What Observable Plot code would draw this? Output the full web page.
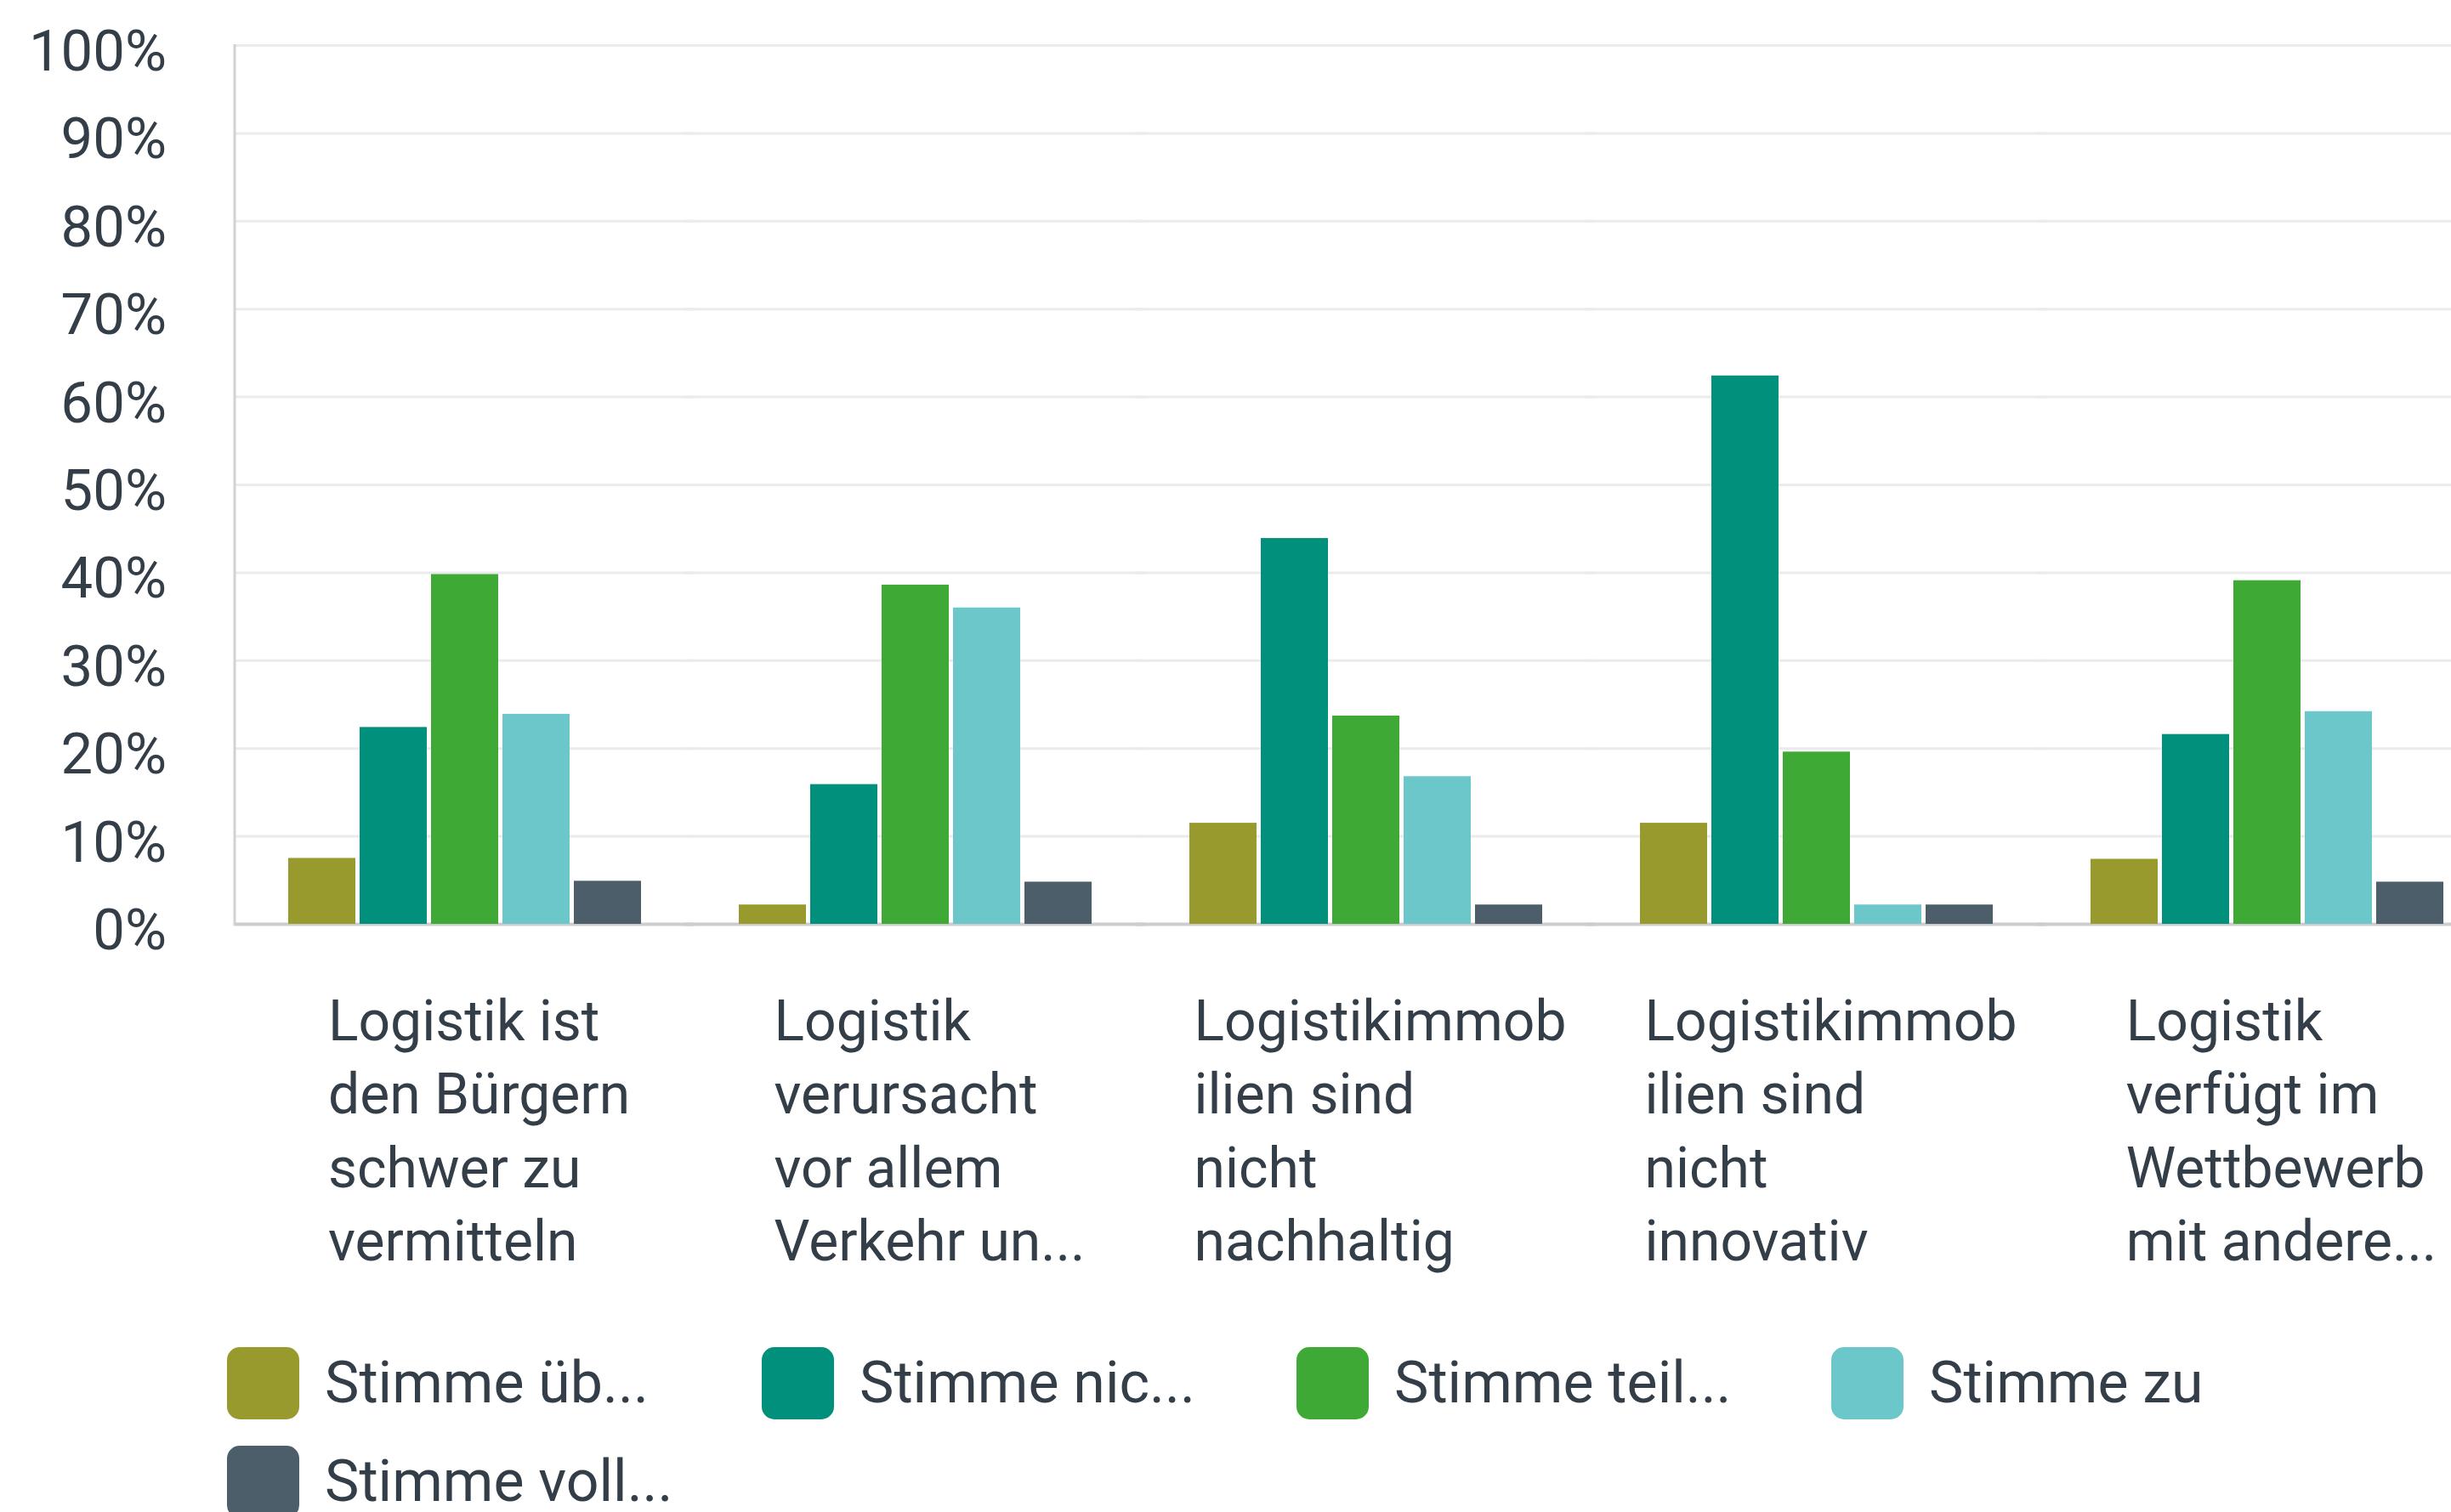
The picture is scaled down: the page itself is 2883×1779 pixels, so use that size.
<!DOCTYPE html>
<html>
<head>
<meta charset="utf-8">
<script src="https://cdn.jsdelivr.net/npm/d3@7"></script>
<script src="https://cdn.jsdelivr.net/npm/@observablehq/plot@0.6"></script>
<style>
  html, body { margin: 0; padding: 0; background: #ffffff; overflow: hidden; }
  #chart { width: 2883px; overflow: hidden; }
  #legend { font-family: Roboto, sans-serif; padding-left: 267px; }
  #legend .lg-swatches-wrap { display: flex; flex-wrap: wrap; width: 2516px; margin: 0; padding: 0; min-height: 0;
    font-family: Roboto, sans-serif; font-size: 68px; color: #333e48; }
  #legend .lg-swatch { display: inline-flex; align-items: center; width: 629px; height: 116px; margin: 0 !important; }
  #legend .lg-swatch > svg { margin-right: 30px !important; flex: none; }
  #legend .lg-swatch > svg rect { rx: 15px; ry: 15px; }
</style>
</head>
<body>
<div id="chart"></div>
<div id="legend"></div>
<script>
// Categories (x-axis labels as shown, wrapped)
const categories = [
  "Logistik ist\nden Bürgern\nschwer zu\nvermitteln",
  "Logistik\nverursacht\nvor allem\nVerkehr un...",
  "Logistikimmob\nilien sind\nnicht\nnachhaltig",
  "Logistikimmob\nilien sind\nnicht\ninnovativ",
  "Logistik\nverfügt im\nWettbewerb\nmit andere..."
];

// Answer series (legend labels as shown)
const answers = ["Stimme üb...", "Stimme nic...", "Stimme teil...", "Stimme zu", "Stimme voll..."];
const colors = ["#989a2d", "#00907c", "#3eaa35", "#6cc7cb", "#4b5e6a"];

// Percentages per answer, one value per category
const stimmeUeberhaupt = [7.5, 2.2, 11.5, 11.5, 7.4];
const stimmeNicht      = [22.4, 15.9, 43.9, 62.4, 21.6];
const stimmeTeilweise  = [39.8, 38.6, 23.7, 19.6, 39.1];
const stimmeZu         = [23.9, 36.0, 16.8, 2.2, 24.2];
const stimmeVoll       = [4.9, 4.8, 2.2, 2.2, 4.8];

const yTicks = [0, 10, 20, 30, 40, 50, 60, 70, 80, 90, 100];

const series = [stimmeUeberhaupt, stimmeNicht, stimmeTeilweise, stimmeZu, stimmeVoll];
const data = [];
categories.forEach((c, i) => {
  answers.forEach((a, j) => data.push({category: c, answer: a, value: series[j][i]}));
});

// layout
const W = 2936, ML = 275, MR = 0;
const padInner = 0.212, padOuter = 0.116;
const step = (W - ML - MR) / (categories.length - padInner + 2 * padOuter);
const leftPad = step * padOuter;       // gap between y axis line and first group

const plot = Plot.plot({
  width: W,
  height: 1569,
  marginLeft: ML,
  marginRight: MR,
  marginTop: 53,
  marginBottom: 482,
  style: {fontFamily: "Roboto, sans-serif", fontSize: "66px", color: "#333e48", background: "#ffffff", overflow: "visible", maxWidth: "none"},
  fx: {domain: categories, paddingInner: padInner, paddingOuter: padOuter, label: null},
  x: {domain: answers, paddingInner: 0.06, paddingOuter: 0, axis: null},
  y: {domain: [0, 100], label: null},
  color: {domain: answers, range: colors},
  marks: [
    Plot.ruleY(yTicks, {stroke: "#ebebeb", strokeWidth: 3, insetLeft: -leftPad, insetRight: -leftPad}),
    Plot.ruleY([0], {stroke: "#cdcdcd", strokeWidth: 4, insetLeft: -leftPad, insetRight: -leftPad}),
    Plot.frame({anchor: "left", facet: "super", stroke: "#d2d2d2", strokeWidth: 3, dx: -leftPad}),
    Plot.barY(data, {fx: "category", x: "answer", y: "value", fill: "answer"}),
    Plot.axisY({ticks: yTicks, tickFormat: d => d + "%", tickSize: 0, tickPadding: 80 + leftPad, fontSize: 67, dy: 8, label: null}),
    Plot.axisFx({anchor: "bottom", tickSize: 0, tickPadding: 75, fontSize: 66, lineHeight: 1.31, textAnchor: "start", label: null})
  ]
});

document.getElementById("chart").append(plot);

// centre each left-aligned label block under its group
plot.querySelectorAll('g[aria-label="fx-axis tick label"] text').forEach(t => {
  const w = t.getBBox().width;
  const tr = t.getAttribute("transform") || "";
  t.setAttribute("transform", tr + ` translate(${-w / 2 + 17},0)`);
});

const legend = Plot.legend({
  color: {domain: answers, range: colors},
  legend: "swatches",
  swatchSize: 85,
  className: "lg"
});
document.getElementById("legend").append(legend);
</script>
</body>
</html>
